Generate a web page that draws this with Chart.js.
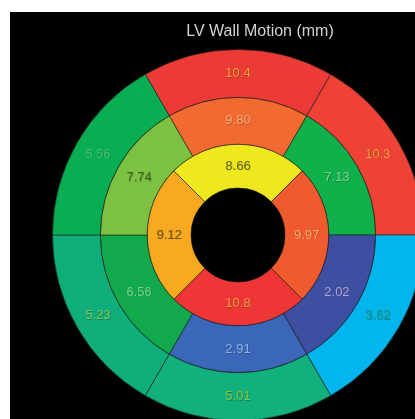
<!DOCTYPE html>
<html>
<head>
<meta charset="utf-8">
<script src="https://cdn.jsdelivr.net/npm/chart.js@4/dist/chart.umd.min.js"></script>
<style>
  html, body { margin: 0; padding: 0; background: #ffffff; width: 415px; height: 419px; overflow: hidden; }
  #panel { position: absolute; left: 10px; top: 12px; width: 405px; height: 407px; background: #000000; overflow: hidden; }
  #box { position: absolute; left: 0px; top: 0px; width: 500px; height: 409px; }
  #title { position: absolute; left: 100px; top: 9px; width: 300px; height: 20px; line-height: 20px; text-align: center;
           font-family: "Liberation Sans", Arial, sans-serif; font-size: 16px; color: #d2d2d2; }
</style>
</head>
<body>
<div id="panel"><div id="box"><canvas id="c"></canvas></div><div id="title"></div></div>
<script>
// Title
const chartTitle = 'LV Wall Motion (mm)';

// Segment values (mm), clockwise starting at the top segment of each ring
const outerValues  = [10.4, 10.3, 3.62, 5.01, 5.23, 5.56];
const middleValues = [9.80, 7.13, 2.02, 2.91, 6.56, 7.74];
const innerValues  = [8.66, 9.97, 10.8, 9.12];

// Value labels as printed on the chart
const outerLabels  = ['10.4', '10.3', '3.62', '5.01', '5.23', '5.56'];
const middleLabels = ['9.80', '7.13', '2.02', '2.91', '6.56', '7.74'];
const innerLabels  = ['8.66', '9.97', '10.8', '9.12'];

// Styles
const outerColors  = ['#ec3b36', '#ee4236', '#02b5ec', '#11b07c', '#0fae7b', '#09ad52'];
const middleColors = ['#f16b31', '#10b04b', '#3e4fa1', '#3b67b8', '#11a94b', '#7cc142'];
const innerColors  = ['#eee81f', '#ef5b2f', '#ee3636', '#f8a91f'];
const outerText    = ['#f2a23a', '#f2a23a', '#1a9a7e', '#8cc43e', '#8cc45a', '#4cc07a'];
const middleText   = ['#f6ac78', '#86d48a', '#b6a6d6', '#86b6e6', '#7ed68a', '#3e6a22'];
const innerText    = ['#6e6a1e', '#f6ae74', '#f2a040', '#6e5220'];

document.getElementById('title').textContent = chartTitle;

const ones = n => new Array(n).fill(1);

const labelPlugin = {
  id: 'segLabels',
  afterDatasetsDraw(chart) {
    const ctx = chart.ctx;
    const labelSets = [outerLabels, middleLabels, innerLabels];
    const textSets = [outerText, middleText, innerText];
    ctx.save();
    ctx.font = '13px "Liberation Sans", Arial, sans-serif';
    ctx.textAlign = 'center';
    ctx.textBaseline = 'middle';
    chart.data.datasets.forEach((ds, i) => {
      const meta = chart.getDatasetMeta(i);
      meta.data.forEach((arc, j) => {
        const p = arc.tooltipPosition();
        ctx.fillStyle = 'rgba(0,0,0,0.25)';
        ctx.fillText(labelSets[i][j], p.x + 0.7, p.y + 0.7);
        ctx.fillStyle = textSets[i][j];
        ctx.fillText(labelSets[i][j], p.x, p.y);
      });
    });
    ctx.restore();
  }
};

new Chart(document.getElementById('c'), {
  type: 'doughnut',
  data: {
    labels: outerLabels,
    datasets: [
      { data: ones(outerValues.length), values: outerValues, backgroundColor: outerColors, rotation: -30, weight: 48 },
      { data: ones(middleValues.length), values: middleValues, backgroundColor: middleColors, rotation: -30, weight: 47 },
      { data: ones(innerValues.length), values: innerValues, backgroundColor: innerColors, rotation: -45, weight: 44 }
    ]
  },
  options: {
    responsive: true,
    maintainAspectRatio: false,
    animation: false,
    cutout: 47,
    layout: { padding: { left: 42, right: 86, top: 37, bottom: 0 } },
    elements: { arc: { borderColor: 'rgba(25,25,25,0.55)', borderWidth: 1 } },
    plugins: {
      legend: { display: false },
      tooltip: { enabled: false },
      title: { display: false }
    }
  },
  plugins: [labelPlugin]
});
</script>
</body>
</html>
